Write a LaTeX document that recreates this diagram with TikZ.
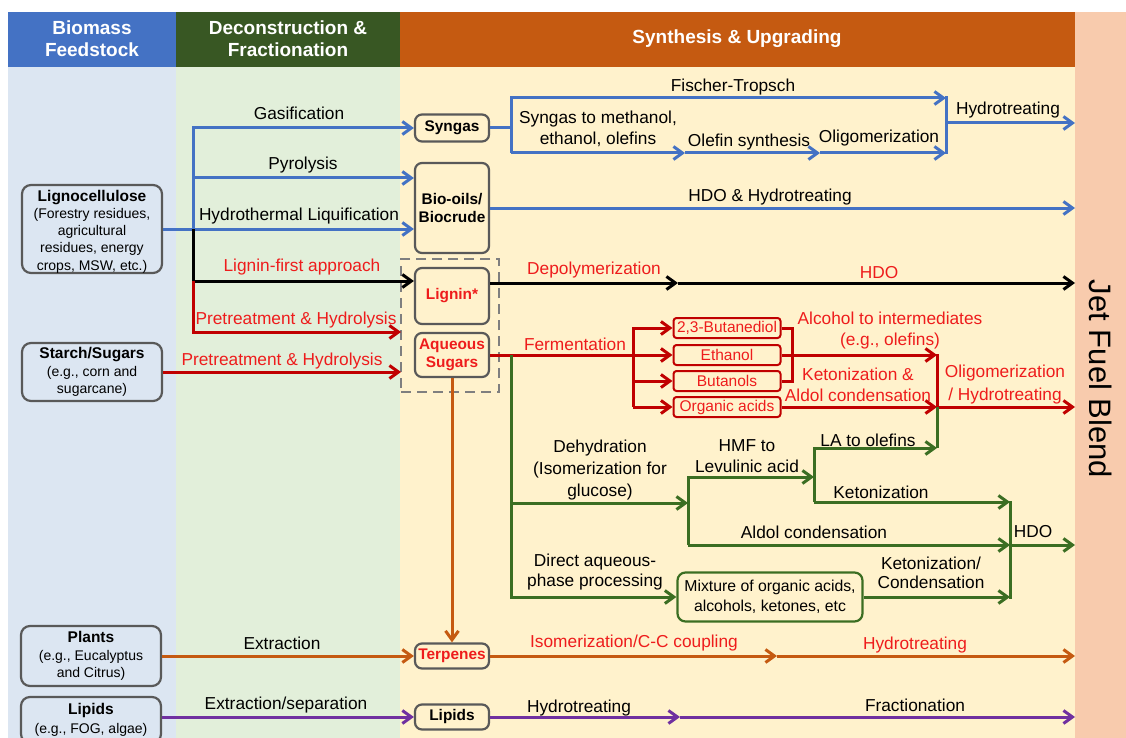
\documentclass[tikz,border=0pt]{standalone}
\usepackage{fontspec}
\setmainfont{Liberation Sans}
\usetikzlibrary{arrows.meta}
\definecolor{hblue}{HTML}{4472C4}
\definecolor{hgreen}{HTML}{385723}
\definecolor{horange}{HTML}{C55A11}
\definecolor{bgblue}{HTML}{DCE6F2}
\definecolor{bggreen}{HTML}{E2EFDA}
\definecolor{bgyellow}{HTML}{FFF2CC}
\definecolor{bgpink}{HTML}{F8CBAD}
\definecolor{lblue}{HTML}{4472C4}
\definecolor{lred}{HTML}{C00000}
\definecolor{tred}{HTML}{EE1C1C}
\definecolor{lgreen}{HTML}{3B6E22}
\definecolor{lorange}{HTML}{C55A11}
\definecolor{lpurple}{HTML}{7030A0}
\definecolor{boxgray}{HTML}{595959}
\definecolor{dashgray}{HTML}{7F7F7F}
\begin{document}
\begin{tikzpicture}[x=1pt,y=-1pt,
  lbl/.style={inner sep=0pt, font=\fontsize{17.3}{21}\selectfont, align=center},
  rlbl/.style={lbl, text=tred},
  hdr/.style={inner sep=0pt, font=\fontsize{19}{22}\selectfont\bfseries, text=white, align=center},
  fbox/.style={draw=boxgray, line width=2.2pt, rounded corners=9pt, fill=bgblue, minimum width=140pt, inner sep=0pt, align=center, font=\fontsize{14}{17.3}\selectfont},
  ibox/.style={draw=boxgray, line width=2.2pt, rounded corners=7pt, fill=bgyellow, minimum width=74pt, inner sep=0pt, align=center, font=\fontsize{15.4}{18.5}\selectfont\bfseries},
  rbox/.style={draw=lred, line width=2pt, rounded corners=3pt, fill=bgyellow, minimum width=107pt, minimum height=20pt, inner sep=0pt, text=tred, font=\fontsize{15.5}{18}\selectfont},
  flow/.style={-{Straight Barb[length=9pt,width=13pt]}},
  bl/.style={draw=lblue, line width=3pt},
  bk/.style={draw=black, line width=3pt},
  rd/.style={draw=lred, line width=3pt},
  gr/.style={draw=lgreen, line width=3pt},
  orl/.style={draw=lorange, line width=3pt},
  pu/.style={draw=lpurple, line width=3pt},
  vline/.style={line cap=rect}
]
\useasboundingbox (0,0) rectangle (1126,738);
\clip (0,0) rectangle (1126,738);
% backgrounds
\fill[white] (0,0) rectangle (1126,738);
\fill[bgblue] (8,67) rectangle (176,738);
\fill[bggreen] (176,67) rectangle (400,738);
\fill[bgyellow] (400,67) rectangle (1075,738);
\fill[bgpink] (1075,12) rectangle (1126,738);
\fill[hblue] (8,12) rectangle (176,67);
\fill[hgreen] (176,12) rectangle (400,67);
\fill[horange] (400,12) rectangle (1075,67);
\node[hdr] (h1) at (92,39) {Biomass\\Feedstock};
\node[hdr] (h2) at (288,39) {Deconstruction \&\\Fractionation};
\node[hdr] (h3) at (737,39) {Synthesis \& Upgrading};
\node[inner sep=0pt, font=\fontsize{31}{34}\selectfont, rotate=-90] (jet) at (1101,379) {Jet Fuel Blend};
\coordinate (J) at (1075,0);

% feedstock boxes
\node[fbox, minimum height=88pt] (lig) at (92,229) {};
\node[inner sep=0pt, align=center, font=\fontsize{14}{17.3}\selectfont] (ligt) at (92,231.5) {{\fontsize{15.5}{17}\selectfont\bfseries Lignocellulose}\\(Forestry residues,\\agricultural\\residues, energy\\crops, MSW, etc.)};
\node[fbox, minimum height=58pt] (st) at (92,372) {{\fontsize{15.5}{17}\selectfont\bfseries Starch/Sugars}\\(e.g., corn and\\sugarcane)};
\node[fbox, minimum height=60pt] (pl) at (91,656) {{\fontsize{15.5}{17}\selectfont\bfseries Plants}\\(e.g., Eucalyptus\\and Citrus)};
\node[fbox, minimum height=46pt, font=\fontsize{14}{19}\selectfont] (lip) at (91,720) {{\fontsize{15.5}{19}\selectfont\bfseries Lipids}\\(e.g., FOG, algae)};

% intermediate boxes
\node[draw=dashgray, line width=2.2pt, dash pattern=on 10pt off 6pt, minimum width=98pt, minimum height=133pt, inner sep=0pt] (grp) at (450,325.5) {};
\node[ibox, minimum height=27pt] (syn) at (452,128) {Syngas};
\node[ibox, minimum height=90pt] (bio) at (452,208) {Bio-oils/\\Biocrude};
\node[ibox, minimum height=56pt, text=tred] (lign) at (452,296) {Lignin*};
\node[ibox, minimum height=44pt, text=tred] (aqs) at (452,355) {Aqueous\\Sugars};
\node[ibox, minimum height=25pt, text=tred] (terp) at (452,656) {Terpenes};
\node[ibox, minimum height=25pt] (lipm) at (452,717) {Lipids};

% fermentation products
\node[rbox] (bdo) at (727,328) {2,3-Butanediol};
\node[rbox] (eth) at (727,355) {Ethanol};
\node[rbox] (but) at (727,381) {Butanols};
\node[rbox] (oac) at (727,407) {Organic acids};
\node[draw=lgreen, line width=2.2pt, rounded corners=8pt, fill=bgyellow, minimum width=185pt, minimum height=49pt, inner sep=0pt, align=center, font=\fontsize{15.8}{20}\selectfont] (mix) at (770,597) {Mixture of organic acids,\\alcohols, ketones, etc};

% coordinates
\coordinate (vt) at (193,128);
\coordinate (vp) at (193,178);
\coordinate (vh) at (193,229);
\coordinate (vl) at (193,281);
\coordinate (vr) at (193,332);
\coordinate (dl1) at (401,332);
\coordinate (dl2) at (401,372);
\coordinate (s1) at (511,128);
\coordinate (s1t) at (511,98);
\coordinate (s1b) at (511,153);
\coordinate (ft) at (946,98);
\coordinate (os) at (685,153);
\coordinate (og) at (820,153);
\coordinate (hb) at (946,153);
\coordinate (hm) at (946,123);
\coordinate (dep) at (678,283);
\coordinate (fv) at (633,355);
\coordinate (fvt) at (633,328);
\coordinate (fvb) at (633,407);
\coordinate (br1) at (792,328);
\coordinate (br2) at (792,381);
\coordinate (ol1) at (937,355);
\coordinate (ol2) at (937,407);
\coordinate (g0) at (511,355);
\coordinate (g0b) at (511,597);
\coordinate (gd) at (511,503);
\coordinate (gdv) at (688,503);
\coordinate (gdt) at (688,477);
\coordinate (gdb) at (688,545);
\coordinate (gh) at (814,477);
\coordinate (ght) at (814,448);
\coordinate (ghb) at (814,502);
\coordinate (gla) at (937,448);
\coordinate (gk) at (1010,502);
\coordinate (gkm) at (1010,545);
\coordinate (gkb) at (1010,597);
\coordinate (om) at (777,656);
\coordinate (pm) at (680,717);

% blue
\draw[bl,flow] (vh) -- (vt) -- (syn.west);
\draw[bl,flow] (vp) -- (vp -| bio.west);
\draw[bl,flow] (lig.east) -- (lig.east -| bio.west);
\draw[bl] (syn.east) -- (s1);
\draw[bl,flow] (s1b) -- (s1t) -- (ft);
\draw[bl,flow] (s1b) -- (os);
\draw[bl,flow] (os) -- (og);
\draw[bl,flow] (og) -- (hb);
\draw[bl,vline] (ft) -- (hb);
\draw[bl,flow] (hm) -- (hm -| J);
\draw[bl,flow] (bio.east) -- (bio.east -| J);
% black
\draw[bk,flow] (vh) -- (vl) -- (vl -| lign.west);
\draw[bk,flow] (lign.east |- dep) -- (dep);
\draw[bk,flow] (dep) -- (dep -| J);
% red
\draw[rd,flow] (vl) -- (vr) -- (dl1);
\draw[rd,flow] (st.east) -- (dl2);
\draw[rd] (aqs.east) -- (fv);
\draw[rd,flow] (fv) -- (eth.west);
\draw[rd,flow] (fvb) -- (fvt) -- (bdo.west);
\draw[rd,flow] (fvt |- but.west) -- (but.west);
\draw[rd,flow] (fvb) -- (oac.west);
\draw[rd] (bdo.east) -- (br1) -- (br2) -- (but.east);
\draw[rd,flow] (eth.east) -- (ol1);
\draw[rd,flow] (oac.east) -- (ol2);
\draw[rd,vline] (ol1) -- (ol2);
\draw[rd,flow] (ol2) -- (ol2 -| J);
% green
\draw[gr,flow] (g0) -- (g0b) -- (g0b -| mix.west);
\draw[gr,flow] (gd) -- (gdv);
\draw[gr,flow] (gdb) -- (gdt) -- (gh);
\draw[gr,flow] (gdb) -- (gkm);
\draw[gr,flow] (ghb) -- (ght) -- (gla);
\draw[gr,flow] (ghb) -- (gk);
\draw[gr] (gla) -- (ol2);
\draw[gr,vline] (gk) -- (gkb);
\draw[gr,flow] (mix.east) -- (gkb);
\draw[gr,flow] (gkm) -- (gkm -| J);
% orange
\draw[orl,flow] (aqs.south) -- (terp.north);
\draw[orl,flow] (pl.east) -- (terp.west);
\draw[orl,flow] (terp.east) -- (om);
\draw[orl,flow] (om) -- (om -| J);
% purple
\draw[pu,flow] (lip.east |- lipm.west) -- (lipm.west);
\draw[pu,flow] (lipm.east) -- (pm);
\draw[pu,flow] (pm) -- (pm -| J);

% labels
\node[lbl] (t1) at (299,113) {Gasification};
\node[lbl] (t2) at (303,165) {Pyrolysis};
\node[lbl] (t3) at (299,216) {Hydrothermal Liquification};
\node[rlbl] (t4) at (302,267) {Lignin-first approach};
\node[rlbl] (t5) at (296,320) {Pretreatment \& Hydrolysis};
\node[rlbl] (t6) at (282,361) {Pretreatment \& Hydrolysis};
\node[lbl] (t7) at (733,87) {Fischer-Tropsch};
\node[lbl] (t8) at (598,129) {Syngas to methanol,\\ethanol, olefins};
\node[lbl] (t9) at (749,142) {Olefin synthesis};
\node[lbl] (t10) at (879,138) {Oligomerization};
\node[lbl] (t11) at (1008,110) {Hydrotreating};
\node[lbl] (t12) at (770,197) {HDO \& Hydrotreating};
\node[rlbl] (t13) at (594,270) {Depolymerization};
\node[rlbl] (t14) at (879,273) {HDO};
\node[rlbl] (t15) at (575,344) {Fermentation};
\node[rlbl] (t16) at (890,331) {Alcohol to intermediates\\(e.g., olefins)};
\node[rlbl] (t17) at (858,385) {Ketonization \&\\Aldol condensation};
\node[rlbl, font=\fontsize{17.3}{23}\selectfont] (t18) at (1005,385) {Oligomerization\\/ Hydrotreating};
\node[lbl, font=\fontsize{17.3}{22}\selectfont] (t19) at (600,470) {Dehydration\\(Isomerization for\\glucose)};
\node[lbl] (t20) at (747,456) {HMF to\\Levulinic acid};
\node[lbl] (t21) at (868,440) {LA to olefins};
\node[lbl] (t22) at (881,492) {Ketonization};
\node[lbl] (t23) at (814,532) {Aldol condensation};
\node[lbl] (t24) at (1033,532) {HDO};
\node[lbl, font=\fontsize{17.3}{20}\selectfont] (t25) at (595,572) {Direct aqueous-\\phase processing};
\node[lbl, font=\fontsize{17.3}{19.5}\selectfont] (t26) at (931,573) {Ketonization/\\Condensation};
\node[lbl] (t27) at (282,643) {Extraction};
\node[rlbl] (t28) at (634,643) {Isomerization/C-C coupling};
\node[rlbl] (t29) at (915,645) {Hydrotreating};
\node[lbl] (t30) at (286,705) {Extraction/separation};
\node[lbl] (t31) at (579,708) {Hydrotreating};
\node[lbl] (t32) at (915,705) {Fractionation};
\end{tikzpicture}
\end{document}
